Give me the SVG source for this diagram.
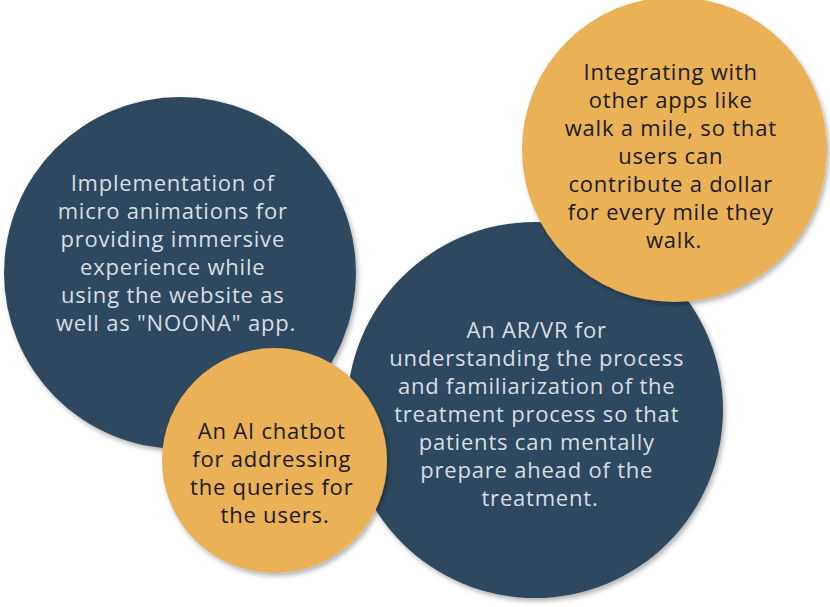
<svg xmlns="http://www.w3.org/2000/svg" width="830" height="607" viewBox="0 0 830 607">
  <defs>
    <filter id="shadow" x="-10%" y="-10%" width="125%" height="125%">
      <feDropShadow dx="2" dy="3" stdDeviation="2.5" flood-color="#000" flood-opacity="0.3"/>
    </filter>
  </defs>
  <style>
    .dark { fill: #2e4a5e; filter: url(#shadow); }
    .gold { fill: #eab157; filter: url(#shadow); }
    text { font-family: "Open Sans", "Lato", "Liberation Sans", sans-serif; font-size: 22px; font-weight: 400; letter-spacing: 0.8px; text-anchor: middle; }
    .light { fill: #d9dee3; }
    .ink { fill: #1b1b1b; }
  </style>
  <rect width="830" height="607" fill="#ffffff"/>

  <g id="micro-animations">
    <circle class="dark" cx="180" cy="273" r="176"/>
    <text class="light">
      <tspan x="176" y="191">Implementation of</tspan>
      <tspan x="176" y="219">micro animations for</tspan>
      <tspan x="176" y="247">providing immersive</tspan>
      <tspan x="176" y="275">experience while</tspan>
      <tspan x="176" y="303">using the website as</tspan>
      <tspan x="176" y="331">well as "NOONA" app.</tspan>
    </text>
  </g>

  <g id="ar-vr">
    <circle class="dark" cx="535" cy="410" r="188"/>
    <text class="light">
      <tspan x="540" y="338">An AR/VR for</tspan>
      <tspan x="540" y="366">understanding the process</tspan>
      <tspan x="540" y="394">and familiarization of the</tspan>
      <tspan x="540" y="422">treatment process so that</tspan>
      <tspan x="540" y="450">patients can mentally</tspan>
      <tspan x="540" y="478">prepare ahead of the</tspan>
      <tspan x="540" y="506">treatment.</tspan>
    </text>
  </g>

  <g id="app-integration">
    <circle class="gold" cx="674.5" cy="149.5" r="152.5"/>
    <text class="ink">
      <tspan x="674" y="80">Integrating with</tspan>
      <tspan x="674" y="108">other apps like</tspan>
      <tspan x="674" y="136">walk a mile, so that</tspan>
      <tspan x="674" y="164">users can</tspan>
      <tspan x="674" y="192">contribute a dollar</tspan>
      <tspan x="674" y="220">for every mile they</tspan>
      <tspan x="674" y="248">walk.</tspan>
    </text>
  </g>

  <g id="ai-chatbot">
    <circle class="gold" cx="274.5" cy="460.5" r="112.5"/>
    <text class="ink">
      <tspan x="275" y="439">An AI chatbot</tspan>
      <tspan x="275" y="467">for addressing</tspan>
      <tspan x="275" y="495">the queries for</tspan>
      <tspan x="275" y="523">the users.</tspan>
    </text>
  </g>

  <g id="connectors"/>
</svg>
